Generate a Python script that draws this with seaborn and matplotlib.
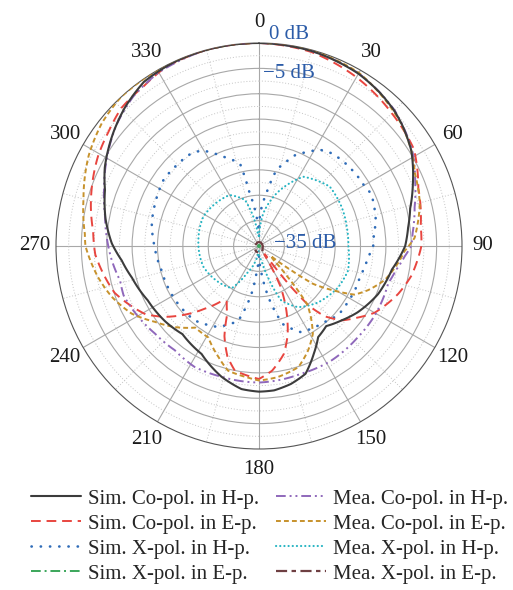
import numpy as np
import matplotlib
matplotlib.use("Agg")
import matplotlib.pyplot as plt
import seaborn as sns

sns.set_theme(style="white")
plt.rcParams["font.family"] = ["Liberation Serif", "DejaVu Serif"]
plt.rcParams["axes.unicode_minus"] = True

# ---- radiation pattern data (angle in degrees, gain in dB) ----
sim_co_h_ang = [0, 15, 30, 38, 45, 50, 58, 68, 76, 83, 90, 100, 112, 124, 132, 140, 147, 153, 160, 167,
                174, 180, 187, 196, 208, 221, 231, 244, 256, 264, 271, 280, 290, 297, 308, 316, 325, 335, 345, 360]
sim_co_h_db = [0, -0.2, -0.8, -1.5, -2.3, -3.1, -4.6, -7.3, -9.3, -10.4, -11.2, -13.4, -14.7, -16.6, -18.1, -19.4, -18.6, -16.2, -13.2, -12.1,
               -11.4, -11.3, -11.6, -13.2, -15.9, -17.0, -16.3, -15.6, -14.2, -12.8, -11.0, -9.3, -7.7, -5.9, -3.6, -2.0, -0.5, -0.1, 0, 0]

sim_co_e_ang = [0, 15, 30, 45, 58, 70, 83, 90, 101, 109, 120, 126, 132, 137, 140, 142, 144, 148, 152, 157, 162, 167,
                174, 180, 191, 196, 201, 205, 210, 214, 221, 227, 233, 239, 252, 267, 275, 283, 299, 307, 315, 324, 332, 345, 360]
sim_co_e_db = [0, -0.4, -1.6, -3.0, -4.0, -6.6, -7.9, -8.0, -9.4, -11.0, -13.7, -16.0, -18.1, -21.1, -24.5, -30.0, -38.0, -38.0, -31.0, -26.2, -21.7, -18.2,
               -15.3, -13.8, -15.0, -17.4, -21.0, -25.2, -27.3, -27.0, -23.6, -20.2, -16.8, -13.9, -10.1, -7.7, -7.2, -6.0, -3.7, -2.8, -1.6, -1.2, -0.3, 0, 0]

sim_x_h_ang = [0, 2, 8, 13, 18, 22, 27.5, 32, 38, 44, 55, 61, 65, 77, 85, 90, 96, 107, 115, 122, 131, 139, 154, 163, 168,
               174, 180, 185, 189, 195.5, 207, 221, 234, 256, 270, 282, 292, 305, 316, 322, 329, 338, 347, 350, 355, 360]
sim_x_h_db = [-38, -33.6, -29.5, -24.6, -22.5, -20.6, -19.1, -17.6, -16.8, -16.5, -16.2, -16.1, -15.6, -16.4, -17.3, -17.5, -18.4, -19.2, -19.2, -19.3, -19.3, -20.2, -21.1, -23.9, -28.3,
              -34.0, -38.0, -35.0, -30.4, -24.7, -22.1, -20.6, -20.4, -20.2, -19.4, -18.4, -17.9, -17.1, -17.3, -17.3, -18.0, -21.0, -23.3, -29.5, -34.0, -38]

sim_x_e_ang = [0, 60, 120, 180, 240, 300, 360]
sim_x_e_db = [-39.8, -39.8, -39.8, -39.8, -39.8, -39.8, -39.8]

mea_co_h_ang = [0, 15, 30, 45, 58, 68, 76, 85, 90, 94, 100, 106, 121, 133, 148, 162, 180, 196, 208, 219,
                230, 240, 250, 256, 265, 270, 281, 290, 300, 310, 320, 330, 345, 360]
mea_co_h_db = [0, -0.2, -0.7, -2.2, -4.4, -6.8, -8.4, -9.6, -10.0, -11.2, -12.6, -13.5, -13.4, -13.5, -13.3, -13.5, -13.1, -13.2, -13.0, -13.6,
               -13.2, -12.4, -11.6, -11.8, -10.8, -10.3, -9.1, -7.5, -5.4, -3.2, -1.5, -0.5, 0, 0]

mea_co_e_ang = [0, 15, 30, 49, 57, 65, 75, 87, 92, 97, 105, 112, 117, 120.6, 125, 127, 130, 134, 137, 139, 140.5, 144,
                148.5, 155, 162, 172, 180, 185, 194, 200, 209, 218, 226, 234, 242, 251, 259, 270, 274, 285, 298, 308, 317, 345, 360]
mea_co_e_db = [0, -0.1, -0.6, -3.0, -4.4, -6.1, -7.2, -9.3, -11.3, -12.4, -14.3, -16.8, -18.9, -22.7, -27.0, -32.0, -37.0, -36.0, -32.0, -28.0, -25.0, -22.6,
               -19.7, -17.2, -14.9, -13.9, -13.5, -14.0, -14.7, -16.7, -19.4, -19.6, -17.0, -14.6, -11.6, -9.3, -7.7, -5.8, -5.6, -4.2, -2.0, -0.7, 0, 0, 0]

mea_x_h_ang = [0, 7.5, 18.6, 32.6, 50, 65, 77.6, 90, 105.5, 117.6, 133.7, 147.5, 157.8, 164, 170, 185,
               204, 212.8, 226.3, 249.6, 275.6, 297.8, 330, 343, 349, 355, 360]
mea_x_h_db = [-38, -33.5, -29.0, -23.8, -21.8, -22.0, -22.3, -22.4, -21.8, -22.4, -23.9, -25.7, -28.4, -33.6, -37.0, -39.0,
              -34.1, -30.1, -29.4, -28.3, -28.0, -27.6, -28.4, -30.5, -34.1, -38.0, -38]

mea_x_e_ang = [0, 60, 120, 150, 180, 210, 240, 300, 360]
mea_x_e_db = [-39.2, -39.3, -39.2, -38.8, -38.7, -38.8, -39.2, -39.3, -39.2]

# label, angles, values, colour, dash pattern, width, z-order, cap style
series = [
    ("Sim. Co-pol. in H-p.", sim_co_h_ang, sim_co_h_db, "#3c3c3c", "-", 1.5, 6, "butt"),
    ("Sim. Co-pol. in E-p.", sim_co_e_ang, sim_co_e_db, "#e8453f", (0, (5, 3)), 1.4, 4, "butt"),
    ("Sim. X-pol. in H-p.", sim_x_h_ang, sim_x_h_db, "#2f6cb8", (0, (0.1, 3.4)), 1.9, 3, "round"),
    ("Sim. X-pol. in E-p.", sim_x_e_ang, sim_x_e_db, "#3aa65a", (0, (5, 2, 1, 2)), 1.4, 3, "butt"),
    ("Mea. Co-pol. in H-p.", mea_co_h_ang, mea_co_h_db, "#8f68bb", (0, (5, 2, 1, 2, 1, 2)), 1.4, 5, "butt"),
    ("Mea. Co-pol. in E-p.", mea_co_e_ang, mea_co_e_db, "#c7922c", (0, (2.5, 1.6)), 1.4, 5, "butt"),
    ("Mea. X-pol. in H-p.", mea_x_h_ang, mea_x_h_db, "#25b4c2", (0, (0.1, 1.9)), 1.5, 3, "round"),
    ("Mea. X-pol. in E-p.", mea_x_e_ang, mea_x_e_db, "#6e3f42", (0, (5, 2, 2, 2)), 1.6, 3, "butt"),
]

fig = plt.figure(figsize=(5.13, 5.90), dpi=100)
ax = fig.add_axes([56 / 513, 1 - 449 / 590, 406 / 513, 406 / 590], projection="polar")
ax.set_theta_zero_location("N")
ax.set_theta_direction(-1)
ax.set_facecolor("white")

handles = []
for label, ang, db, color, ls, lw, z, cap in series:
    sns.lineplot(x=np.deg2rad(ang), y=db, ax=ax, sort=False, estimator=None,
                 color=color, linestyle=ls, linewidth=lw, zorder=z, label=label,
                 dash_capstyle=cap)
    ln = ax.lines[-1]
    # draw each segment as a curve in polar space rather than a straight chord
    ln._path._interpolation_steps = 24
    handles.append(ln)
if ax.get_legend() is not None:
    ax.get_legend().remove()

ax.set_ylim(-40, 0)

# radial grid: solid every 5 dB, dotted halfway between
ax.set_yticks(np.arange(-35, 0, 5))
ax.set_yticks(np.arange(-37.5, 0, 5), minor=True)
ax.set_yticklabels([])
ax.yaxis.grid(True, which="major", color="#a8a8a8", lw=0.8, ls="-")
ax.yaxis.grid(True, which="minor", color="#c4c4c4", lw=0.7, ls=(0, (1, 2)))

# angular grid: solid every 30 deg, dotted every 15 deg
ax.set_xticks(np.deg2rad(np.arange(0, 360, 30)))
ax.set_xticklabels([str(a) for a in range(0, 360, 30)], fontsize=15, color="#1a1a1a")
ax.set_xticks(np.deg2rad(np.arange(15, 360, 30)), minor=True)
ax.xaxis.grid(True, which="major", color="#a8a8a8", lw=0.8, ls="-")
ax.xaxis.grid(True, which="minor", color="#c4c4c4", lw=0.7, ls=(0, (1, 2)))
ax.tick_params(axis="x", which="major", pad=8, direction="in", length=6, width=0.9, color="#444444")
ax.tick_params(axis="x", which="minor", direction="in", length=4, width=0.8, color="#444444")
ax.tick_params(axis="y", length=0)
ax.spines["polar"].set_color("#555555")
ax.spines["polar"].set_linewidth(0.8)
ax.set_xlabel("")
ax.set_ylabel("")

# gain ring labels
blue = "#2c5ca8"
fig.text(269 / 513, 1 - 34.5 / 590, "0 dB", color=blue, fontsize=15, ha="left", va="center")
fig.text(263 / 513, 1 - 73 / 590, "\u22125 dB", color=blue, fontsize=15, ha="left", va="center")
fig.text(274 / 513, 1 - 243 / 590, "\u221235 dB", color=blue, fontsize=15, ha="left", va="center")

fig.legend(handles, [s[0] for s in series], ncol=2, loc="upper left",
           bbox_to_anchor=(31 / 513, 1 - 489 / 590), frameon=False, fontsize=15,
           handlelength=2.4, handletextpad=0.35, columnspacing=0.8, labelspacing=0.26,
           borderaxespad=0, borderpad=0)

fig.savefig("out.png", dpi=100, facecolor="white")
